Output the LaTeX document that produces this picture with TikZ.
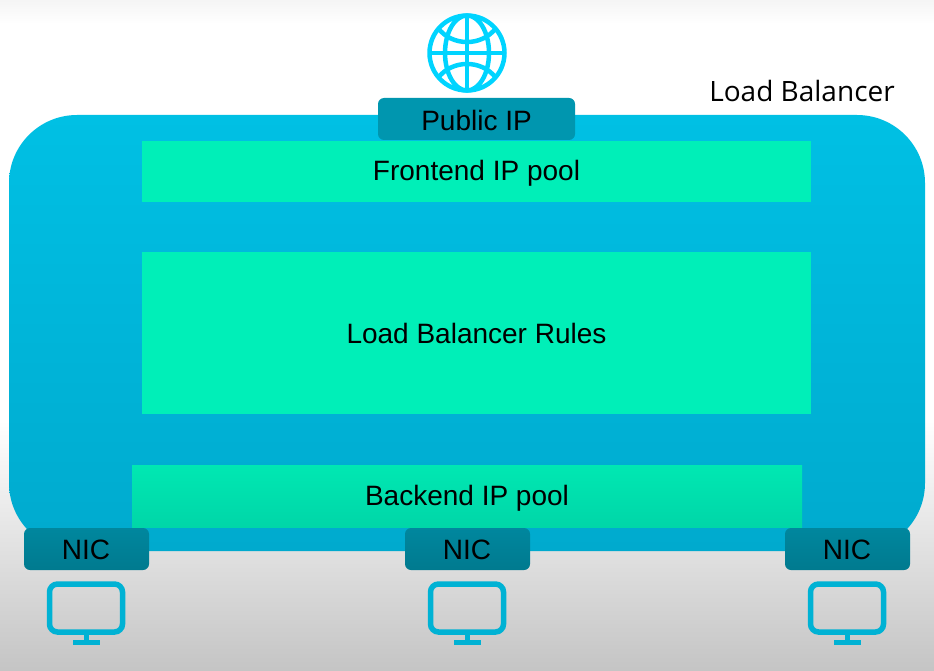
\documentclass[tikz,border=0pt]{standalone}
\usepackage{fontspec}
\setmainfont{Liberation Sans}
\newfontfamily\labelfont{Open Sans}
\definecolor{globeblue}{HTML}{00D4FF}
\definecolor{screenblue}{HTML}{00B2D4}
\definecolor{poolgreen}{HTML}{00EFB8}
\definecolor{bodytop}{RGB}{0,192,228}
\definecolor{bodybottom}{RGB}{0,170,206}
\definecolor{backtop}{RGB}{0,232,178}
\definecolor{backbottom}{RGB}{0,214,168}
\definecolor{pubtag}{RGB}{0,150,175}
\definecolor{nictop}{RGB}{0,135,158}
\definecolor{nicbottom}{RGB}{0,122,143}
\begin{document}
\begin{tikzpicture}[x=1pt,y=-1pt,
  boxtext/.style={text=black,font=\fontsize{28}{32}\selectfont},
  iconline/.style={draw=screenblue,line width=5.5pt},
  globeline/.style={draw=globeblue,line width=4.5pt}]
\useasboundingbox (0,0) rectangle (934,671);
\fill[white] (0,0) rectangle (934,671);
\shade[top color=black!4,bottom color=white] (0,0) rectangle (934,24);
\shade[top color=white,bottom color=black!23] (0,420) rectangle (934,671);
% main body
\shade[rounded corners=68pt,top color=bodytop,bottom color=bodybottom] (9,115) rectangle (925,551);
% pools
\fill[poolgreen] (142,141) rectangle (811,202);
\node[boxtext] (frontend) at (476.5,173.5) {Frontend IP pool};
\fill[poolgreen] (142,252) rectangle (811,414);
\node[boxtext] (rules) at (476.5,333.5) {Load Balancer Rules};
\shade[top color=backtop,bottom color=backbottom] (132,465) rectangle (802,527);
\node[boxtext] (backend) at (467,498.5) {Backend IP pool};
% tags
\fill[rounded corners=6pt,pubtag] (378,98) rectangle (575,140);
\node[boxtext] (publicip) at (476.5,120.5) {Public IP};
\foreach \n/\x in {a/24,b/405,c/785}{
  \shade[rounded corners=6pt,top color=nictop,bottom color=nicbottom] (\x,528) rectangle (\x+125,570);
  \node[boxtext] (nic\n) at (\x+62,549.5) {NIC};
  % monitor
  \draw[iconline,rounded corners=8pt] (\x+25.5,584) rectangle (\x+98.5,632);
  \draw[iconline] (\x+62.5,632) -- (\x+62.5,642);
  \draw[iconline] (\x+49,642.5) -- (\x+76,642.5);
}
% globe
\draw[globeline] (467,53) circle (37.5);
\draw[globeline] (467,15.5) -- (467,90.5);
\draw[globeline] (429.5,53) -- (504.5,53);
\draw[globeline] (467,53) ellipse (22 and 37.5);
\draw[globeline] (438,28) .. controls (452,46.7) and (482,46.7) .. (496,28);
\draw[globeline] (438,78) .. controls (452,59.3) and (482,59.3) .. (496,78);
\node[text=black,font=\labelfont\fontsize{28}{32}\selectfont] (lblabel) at (802,91.5) {Load Balancer};
\end{tikzpicture}
\end{document}
